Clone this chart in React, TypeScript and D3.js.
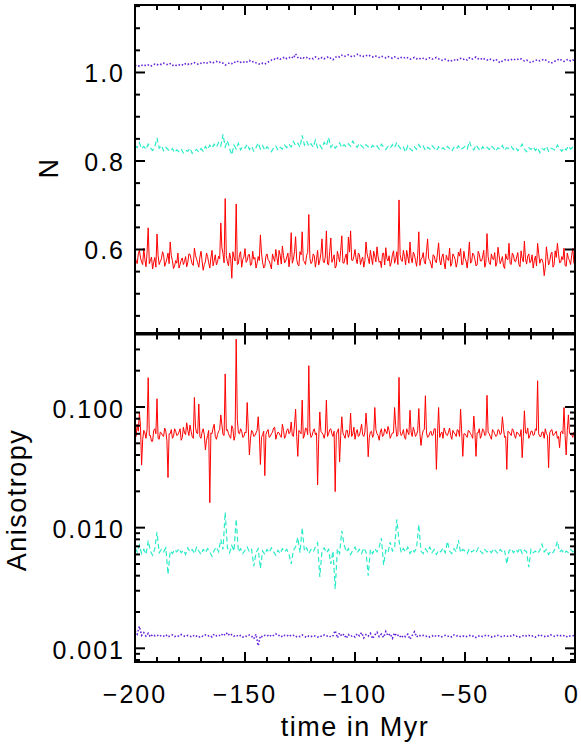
import React from "react";
import * as d3 from "d3";

// time axis (Myr), one sample per Myr for the main arrays
const times = d3.range(-200, 1, 1);

// ---- Top panel: N ----
const redN = [
  .585,.568,.598,.572,.603,.561,.649,.575,.556,.582,
  .635,.566,.579,.588,.570,.592,.617,.575,.563,.569,
  .558,.576,.566,.584,.571,.589,.567,.603,.578,.560,
  .596,.553,.572,.584,.558,.598,.575,.565,.585,.660,
  .590,.715,.572,.592,.535,.582,.703,.568,.595,.578,
  .602,.575,.589,.566,.578,.558,.584,.633,.571,.562,
  .590,.574,.556,.580,.600,.565,.587,.608,.570,.583,
  .561,.638,.578,.629,.566,.595,.640,.572,.587,.679,
  .568,.590,.560,.598,.575,.624,.570,.642,.565,.626,
  .578,.558,.596,.572,.631,.569,.590,.628,.642,.575,
  .600,.568,.589,.577,.560,.617,.580,.598,.566,.585,
  .606,.571,.559,.592,.604,.574,.562,.588,.569,.595,
  .712,.576,.598,.565,.583,.617,.570,.589,.562,.640,
  .578,.593,.567,.624,.575,.558,.586,.570,.615,.565,
  .590,.556,.579,.603,.568,.585,.560,.594,.602,.566,
  .580,.558,.617,.572,.588,.563,.596,.574,.583,.560,
  .636,.570,.590,.577,.562,.605,.568,.584,.557,.579,
  .614,.566,.587,.572,.593,.561,.580,.619,.567,.590,
  .574,.558,.585,.614,.569,.578,.541,.606,.565,.589,
  .560,.597,.614,.570,.584,.603,.562,.580,.566,.603,
  .572
];
// red N at the half-Myr samples (t = -199.5 ... -0.5)
const redNHalf = [
  .574,.590,.581,.566,.577,.594,.568,.583,.571,.560,
  .586,.573,.595,.562,.579,.568,.586,.557,.575,.592,
  .566,.581,.573,.561,.590,.578,.564,.587,.570,.583,
  .574,.566,.592,.570,.581,.563,.588,.572,.579,.604,
  .570,.586,.563,.580,.595,.574,.566,.589,.560,.583,
  .571,.588,.564,.596,.582,.569,.575,.592,.558,.585,
  .577,.566,.590,.573,.582,.598,.567,.586,.574,.592,
  .584,.569,.595,.578,.563,.588,.575,.566,.593,.580,
  .572,.586,.578,.565,.591,.574,.583,.567,.595,.571,
  .588,.563,.584,.597,.570,.582,.566,.594,.576,.585,
  .579,.592,.566,.583,.575,.590,.568,.581,.596,.572,
  .583,.574,.591,.565,.579,.586,.571,.597,.578,.566,
  .589,.573,.584,.598,.569,.581,.594,.575,.587,.564,
  .581,.572,.596,.579,.567,.588,.574,.592,.576,.583,
  .570,.587,.575,.562,.590,.578,.571,.585,.566,.596,
  .574,.583,.569,.592,.578,.565,.589,.574,.598,.571,
  .584,.566,.579,.593,.570,.586,.575,.563,.590,.577,
  .568,.592,.574,.583,.566,.597,.572,.579,.585,.570,
  .588,.575,.563,.591,.578,.569,.560,.585,.573,.594,
  .566,.582,.590,.571,.577,.564,.592,.575,.587,.569
];
const cyanN = [
  .836,.830,.841,.828,.833,.826,.838,.830,.824,.832,
  .852,.829,.835,.823,.831,.826,.822,.828,.819,.825,
  .821,.827,.818,.824,.822,.829,.817,.823,.826,.820,
  .828,.822,.833,.826,.836,.829,.838,.831,.842,.834,
  .860,.832,.846,.828,.814,.836,.827,.840,.825,.833,
  .829,.838,.826,.833,.822,.830,.841,.827,.835,.824,
  .832,.826,.821,.829,.834,.824,.831,.827,.836,.830,
  .838,.832,.844,.835,.840,.831,.858,.836,.845,.833,
  .839,.831,.847,.830,.836,.828,.842,.834,.853,.831,
  .838,.829,.835,.841,.830,.837,.832,.839,.833,.845,
  .836,.831,.840,.834,.829,.837,.832,.828,.835,.830,
  .834,.827,.838,.831,.826,.833,.829,.837,.830,.842,
  .833,.826,.831,.820,.835,.828,.823,.832,.826,.837,
  .829,.834,.824,.831,.827,.835,.829,.823,.832,.826,
  .830,.825,.833,.828,.822,.831,.827,.834,.826,.829,
  .833,.827,.844,.830,.825,.836,.829,.823,.832,.827,
  .831,.826,.834,.829,.822,.830,.827,.835,.824,.830,
  .828,.833,.826,.831,.823,.829,.838,.827,.821,.830,
  .826,.832,.824,.830,.819,.828,.825,.833,.822,.829,
  .827,.824,.836,.828,.822,.830,.825,.834,.827,.831,
  .828
];
const purpleN = [
  1.015,1.017,1.014,1.016,1.018,1.015,1.017,1.014,1.016,1.019,
  1.017,1.020,1.018,1.021,1.019,1.017,1.020,1.016,1.018,1.015,
  1.017,1.019,1.016,1.020,1.018,1.021,1.019,1.022,1.020,1.018,
  1.021,1.023,1.020,1.022,1.024,1.021,1.023,1.025,1.022,1.024,
  1.021,1.017,1.019,1.022,1.020,1.024,1.022,1.026,1.023,1.025,
  1.022,1.024,1.027,1.023,1.025,1.022,1.020,1.018,1.021,1.019,
  1.022,1.025,1.028,1.031,1.029,1.033,1.030,1.032,1.035,1.031,
  1.033,1.036,1.032,1.042,1.034,1.031,1.035,1.032,1.034,1.030,
  1.033,1.031,1.035,1.032,1.030,1.034,1.031,1.033,1.036,1.032,
  1.029,1.034,1.037,1.035,1.039,1.036,1.038,1.040,1.037,1.035,
  1.038,1.041,1.037,1.039,1.036,1.038,1.040,1.037,1.035,1.038,
  1.036,1.034,1.037,1.035,1.033,1.036,1.034,1.032,1.035,1.033,
  1.031,1.034,1.032,1.035,1.033,1.030,1.032,1.034,1.031,1.033,
  1.030,1.032,1.029,1.031,1.033,1.030,1.032,1.034,1.031,1.029,
  1.027,1.030,1.028,1.025,1.027,1.029,1.026,1.030,1.032,1.029,
  1.031,1.028,1.033,1.030,1.032,1.035,1.031,1.029,1.033,1.030,
  1.028,1.031,1.029,1.027,1.030,1.025,1.022,1.026,1.028,1.030,
  1.027,1.029,1.031,1.028,1.030,1.032,1.029,1.026,1.028,1.025,
  1.022,1.025,1.027,1.029,1.026,1.028,1.030,1.027,1.024,1.021,
  1.023,1.026,1.028,1.031,1.027,1.025,1.028,1.030,1.026,1.028,
  1.027
];

// ---- Bottom panel: Anisotropy ----
const redA = [
  .060,.072,.090,.033,.064,.055,.175,.058,.052,.066,
  .117,.054,.061,.057,.063,.026,.060,.055,.066,.058,
  .062,.053,.068,.059,.064,.071,.057,.120,.061,.106,
  .055,.066,.044,.058,.0161,.060,.072,.054,.063,.086,
  .059,.188,.065,.057,.070,.053,.365,.061,.066,.056,
  .062,.109,.040,.064,.057,.061,.083,.0334,.059,.027,
  .063,.056,.060,.067,.054,.062,.058,.072,.055,.064,
  .060,.075,.057,.096,.039,.062,.114,.058,.066,.220,
  .056,.063,.059,.0226,.091,.061,.055,.114,.060,.066,
  .057,.0199,.063,.035,.083,.058,.064,.056,.089,.060,
  .054,.065,.058,.072,.057,.089,.0387,.062,.056,.099,
  .060,.053,.066,.058,.063,.069,.055,.061,.099,.057,
  .176,.058,.065,.054,.062,.094,.057,.063,.059,.097,
  .048,.064,.124,.056,.061,.058,.066,.0304,.099,.060,
  .055,.063,.058,.067,.054,.061,.057,.064,.096,.039,
  .060,.056,.063,.058,.084,.039,.061,.055,.066,.058,
  .125,.060,.054,.063,.057,.065,.059,.083,.056,.0304,
  .062,.058,.064,.055,.061,.057,.038,.093,.060,.055,
  .063,.058,.066,.165,.057,.062,.055,.060,.0314,.064,
  .058,.061,.055,.046,.063,.099,.040,.086,.059,.056,
  .060
];
// red anisotropy at the half-Myr samples (t = -199.5 ... -0.5)
const redAHalf = [
  .057,.063,.069,.054,.061,.066,.058,.052,.064,.060,
  .055,.062,.058,.067,.053,.060,.065,.057,.063,.059,
  .066,.056,.061,.074,.058,.063,.055,.068,.060,.057,
  .062,.059,.053,.064,.061,.067,.057,.059,.065,.071,
  .058,.064,.060,.055,.066,.058,.079,.060,.063,.057,
  .061,.066,.055,.062,.058,.064,.060,.056,.063,.059,
  .065,.057,.062,.068,.059,.061,.056,.064,.058,.066,
  .062,.058,.071,.057,.064,.060,.055,.067,.059,.063,
  .058,.066,.061,.054,.063,.059,.062,.057,.065,.060,
  .063,.059,.066,.058,.061,.055,.064,.060,.057,.068,
  .061,.057,.064,.059,.062,.067,.056,.063,.059,.065,
  .058,.062,.057,.066,.060,.064,.058,.061,.070,.059,
  .063,.060,.056,.066,.059,.062,.068,.057,.064,.060,
  .058,.065,.061,.057,.063,.059,.066,.060,.056,.062,
  .067,.059,.062,.058,.064,.060,.065,.057,.062,.060,
  .058,.064,.060,.055,.063,.061,.066,.058,.064,.059,
  .062,.057,.065,.060,.058,.064,.061,.066,.057,.063,
  .060,.066,.058,.062,.059,.065,.057,.061,.067,.058,
  .063,.059,.064,.060,.057,.062,.066,.058,.061,.065,
  .059,.063,.057,.062,.060,.058,.064,.061,.059,.062
];
const cyanA = [
  .0068,.0063,.0072,.0061,.0066,.0060,.0078,.0064,.0059,.0067,
  .0092,.0062,.0066,.0063,.0068,.0041,.0064,.0061,.0066,.0063,
  .0067,.0062,.0065,.0060,.0068,.0063,.0066,.0061,.0069,.0064,
  .0060,.0066,.0062,.0067,.0063,.0058,.0065,.0069,.0063,.0080,
  .0066,.0134,.0068,.0062,.0071,.0064,.0118,.0063,.0067,.0061,
  .0065,.0069,.0063,.0066,.0048,.0062,.0067,.0046,.0064,.0060,
  .0066,.0062,.0068,.0063,.0059,.0065,.0061,.0067,.0063,.0066,
  .0060,.0050,.0065,.0069,.0083,.0062,.0100,.0064,.0068,.0061,
  .0066,.0063,.0069,.0075,.0039,.0064,.0068,.0062,.0066,.0050,
  .0064,.0031,.0067,.0061,.0094,.0073,.0063,.0067,.0060,.0065,
  .0069,.0062,.0066,.0061,.0068,.0063,.0040,.0066,.0061,.0067,
  .0063,.0069,.0082,.0049,.0065,.0062,.0076,.0064,.0068,.0117,
  .0078,.0062,.0067,.0063,.0069,.0061,.0066,.0063,.0068,.0106,
  .0064,.0061,.0067,.0063,.0069,.0062,.0066,.0060,.0065,.0063,
  .0068,.0062,.0077,.0064,.0061,.0067,.0063,.0079,.0062,.0066,
  .0064,.0061,.0067,.0063,.0065,.0062,.0068,.0064,.0061,.0066,
  .0063,.0065,.0062,.0067,.0064,.0061,.0066,.0063,.0065,.0050,
  .0064,.0067,.0062,.0066,.0063,.0068,.0061,.0065,.0063,.0047,
  .0066,.0062,.0064,.0061,.0065,.0073,.0063,.0066,.0060,.0064,
  .0062,.0067,.0077,.0063,.0065,.0061,.0064,.0062,.0066,.0063,
  .0065
];
const purpleA = [
  .00140,.00131,.00152,.00128,.00135,.00126,.00133,.00124,.00130,.00127,
  .00129,.00125,.00128,.00126,.00130,.00124,.00127,.00129,.00125,.00128,
  .00126,.00130,.00127,.00125,.00128,.00126,.00124,.00129,.00126,.00123,
  .00127,.00125,.00129,.00126,.00128,.00124,.00131,.00127,.00129,.00126,
  .00133,.00128,.00135,.00127,.00130,.00126,.00129,.00125,.00128,.00124,
  .00127,.00125,.00129,.00126,.00120,.00131,.00105,.00127,.00124,.00128,
  .00126,.00130,.00125,.00128,.00132,.00127,.00129,.00124,.00128,.00126,
  .00130,.00126,.00128,.00124,.00127,.00125,.00129,.00126,.00123,.00127,
  .00125,.00128,.00126,.00124,.00127,.00125,.00129,.00126,.00128,.00124,
  .00127,.00140,.00122,.00134,.00126,.00131,.00121,.00130,.00125,.00128,
  .00124,.00132,.00127,.00135,.00122,.00130,.00126,.00133,.00120,.00129,
  .00136,.00125,.00131,.00123,.00138,.00127,.00132,.00121,.00134,.00126,
  .00130,.00122,.00128,.00125,.00131,.00119,.00128,.00137,.00124,.00129,
  .00126,.00128,.00125,.00127,.00124,.00126,.00129,.00125,.00127,.00124,
  .00126,.00128,.00125,.00127,.00124,.00129,.00126,.00128,.00125,.00127,
  .00124,.00126,.00128,.00125,.00127,.00123,.00126,.00128,.00125,.00127,
  .00129,.00126,.00124,.00127,.00125,.00128,.00126,.00124,.00127,.00125,
  .00128,.00126,.00129,.00125,.00127,.00124,.00126,.00129,.00126,.00128,
  .00125,.00127,.00124,.00126,.00130,.00127,.00125,.00128,.00126,.00129,
  .00127,.00125,.00128,.00126,.00129,.00127,.00124,.00128,.00126,.00127,
  .00128
];

const xMajor = [-200, -150, -100, -50, 0];
const xLabels = ["\u2212200", "\u2212150", "\u2212100", "\u221250", "0"];
const nMajor = [0.6, 0.8, 1.0];
const nLabels = ["0.6", "0.8", "1.0"];
const aMajor = [0.001, 0.01, 0.1];
const aLabels = ["0.001", "0.010", "0.100"];

const RED = "#ff0000";
const CYAN = "#2cebc8";
const PURPLE = "#6422d8";
const FONT = "'Liberation Sans', Arial, Helvetica, sans-serif";

// interleave whole-Myr and half-Myr samples into one series of [t, v]
function fine(whole: number[], half: number[]): [number, number][] {
  const out: [number, number][] = [];
  whole.forEach((v, i) => {
    out.push([times[i], v]);
    if (i < half.length) out.push([times[i] + 0.5, half[i]]);
  });
  return out;
}

export default function App() {
  const W = 581, H = 747;
  const L = 135, R = 575;
  const topT = 5, topB = 333, botT = 334.5, botB = 662;
  const x = d3.scaleLinear().domain([-200, 0]).range([L, R]);
  const yN = d3.scaleLinear().domain([0.4113, 1.1525]).range([topB, topT]);
  const yA = d3.scaleLog().domain([0.00077, 0.399]).range([botB, botT]);

  const lineN = d3.line<number>().x((_, i) => x(times[i])).y((d) => yN(d));
  const lineA = d3.line<number>().x((_, i) => x(times[i])).y((d) => yA(d));
  const lineNF = d3.line<[number, number]>().x((d) => x(d[0])).y((d) => yN(d[1]));
  const lineAF = d3.line<[number, number]>().x((d) => x(d[0])).y((d) => yA(d[1]));

  const xMinor = d3.range(-200, 1, 10).filter((v) => !xMajor.includes(v));
  const nMinor = d3.range(9, 24).map((k) => k * 0.05).filter((v) => v > 0.4113 && v < 1.1525 && !nMajor.some((m) => Math.abs(m - v) < 1e-6));
  const aMinor: number[] = [];
  [-4, -3, -2, -1].forEach((e) => {
    for (let m = 2; m <= 9; m++) {
      const v = m * Math.pow(10, e);
      if (v > 0.00077 && v < 0.399) aMinor.push(v);
    }
  });

  const MAJ = 10, MIN = 5;
  const tickStyle = { stroke: "#000", strokeWidth: 2 } as const;

  const xTicks = (yTop: number, yBot: number) => (
    <g>
      {xMajor.map((v) => (
        <g key={"M" + v}>
          <line x1={x(v)} x2={x(v)} y1={yTop} y2={yTop + MAJ} {...tickStyle} />
          <line x1={x(v)} x2={x(v)} y1={yBot} y2={yBot - MAJ} {...tickStyle} />
        </g>
      ))}
      {xMinor.map((v) => (
        <g key={"m" + v}>
          <line x1={x(v)} x2={x(v)} y1={yTop} y2={yTop + MIN} {...tickStyle} />
          <line x1={x(v)} x2={x(v)} y1={yBot} y2={yBot - MIN} {...tickStyle} />
        </g>
      ))}
    </g>
  );

  const yTicks = (vals: number[], scale: (v: number) => number, len: number, key: string) =>
    vals.map((v) => (
      <g key={key + v}>
        <line x1={L} x2={L + len} y1={scale(v)} y2={scale(v)} {...tickStyle} />
        <line x1={R} x2={R - len} y1={scale(v)} y2={scale(v)} {...tickStyle} />
      </g>
    ));

  return (
    <svg width={W} height={H} style={{ position: "absolute", left: 0, top: 0, background: "#fff" }} fontFamily={FONT}>
      <rect x={0} y={0} width={W} height={H} fill="#fff" />
      <defs>
        <clipPath id="clipTop"><rect x={L} y={topT} width={R - L} height={topB - topT} /></clipPath>
        <clipPath id="clipBot"><rect x={L} y={botT} width={R - L} height={botB - botT} /></clipPath>
      </defs>

      {/* Top panel data */}
      <g clipPath="url(#clipTop)" fill="none">
        <path d={lineNF(fine(redN, redNHalf)) || ""} stroke={RED} strokeWidth={1} />
        <path d={lineN(cyanN) || ""} stroke={CYAN} strokeWidth={1.2} strokeDasharray="5,3" />
        <path d={lineN(purpleN) || ""} stroke={PURPLE} strokeWidth={1.6} strokeDasharray="1.5,2" />
      </g>

      {/* Bottom panel data */}
      <g clipPath="url(#clipBot)" fill="none">
        <path d={lineAF(fine(redA, redAHalf)) || ""} stroke={RED} strokeWidth={1} />
        <path d={lineA(cyanA) || ""} stroke={CYAN} strokeWidth={1.2} strokeDasharray="5,3" />
        <path d={lineA(purpleA) || ""} stroke={PURPLE} strokeWidth={1.6} strokeDasharray="1.5,2" />
      </g>

      {/* Frames */}
      <rect x={L} y={topT} width={R - L} height={topB - topT} fill="none" stroke="#000" strokeWidth={2} />
      <rect x={L} y={botT} width={R - L} height={botB - botT} fill="none" stroke="#000" strokeWidth={2} />

      {/* Ticks */}
      {xTicks(topT, topB)}
      {xTicks(botT, botB)}
      {yTicks(nMajor, yN, MAJ, "nM")}
      {yTicks(nMinor, yN, MIN, "nm")}
      {yTicks(aMajor, yA, MAJ, "aM")}
      {yTicks(aMinor, yA, MIN, "am")}

      {/* Tick labels */}
      <g fontSize={25} fill="#000" letterSpacing={2}>
        {nMajor.map((v, i) => (
          <text key={"nl" + v} x={125} y={yN(v) + 10} textAnchor="end">{nLabels[i]}</text>
        ))}
        {aMajor.map((v, i) => (
          <text key={"al" + v} x={125} y={yA(v) + 10.5} textAnchor="end">{aLabels[i]}</text>
        ))}
        {xMajor.map((v, i) => (
          <text key={"xl" + v} x={Math.min(x(v), 572)} y={703} textAnchor="middle">{xLabels[i]}</text>
        ))}
      </g>

      {/* Axis titles */}
      <g fontSize={27} fill="#000" letterSpacing={1.5}>
        <text x={355} y={736} textAnchor="middle">time in Myr</text>
        <text transform="translate(58,168) rotate(-90)" textAnchor="middle">N</text>
        <text transform="translate(26,500) rotate(-90)" textAnchor="middle">Anisotropy</text>
      </g>
    </svg>
  );
}
